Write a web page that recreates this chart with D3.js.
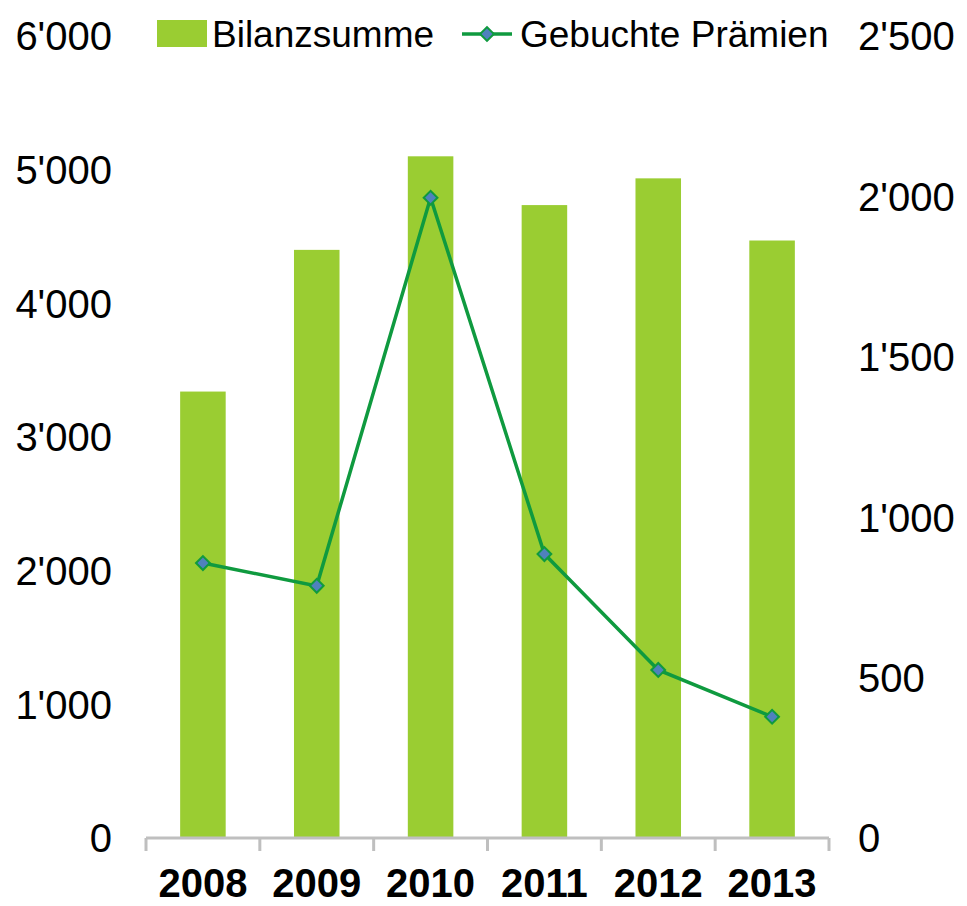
<!DOCTYPE html>
<html>
<head>
<meta charset="utf-8">
<script src="https://cdn.jsdelivr.net/npm/d3@7"></script>
<style>
  body { margin: 0; background: #fff; }
  svg text { font-family: "Liberation Sans", Arial, sans-serif; fill: #000; }
</style>
</head>
<body>
<div id="chart"></div>
<script>
// chart data
const years = ["2008", "2009", "2010", "2011", "2012", "2013"];
const bilanzsumme = [3340, 4400, 5100, 4735, 4935, 4470];
const praemien = [857, 786, 1996, 885, 524, 378];
const leftTicks = [0, 1000, 2000, 3000, 4000, 5000, 6000];
const rightTicks = [0, 500, 1000, 1500, 2000, 2500];
const seriesNames = ["Bilanzsumme", "Gebuchte Prämien"];

const width = 967, height = 906;
const barColor = "#9acd32", lineColor = "#0f9a3f", markerColor = "#4f81bd";

const fmt = d3.formatLocale({decimal: ".", thousands: "'", grouping: [3], currency: ["", ""]}).format(",");

const svg = d3.select("#chart")
    .append("svg")
    .attr("width", width)
    .attr("height", height);

const x = d3.scaleBand()
    .domain(years)
    .range([146, 829])
    .paddingInner(0.6)
    .paddingOuter(0.3);

const yL = d3.scaleLinear().domain([0, 6000]).range([838, 36]);
const yR = d3.scaleLinear().domain([0, 2500]).range([838, 36]);

// bars
svg.selectAll("rect.bar")
    .data(years)
    .join("rect")
    .attr("class", "bar")
    .attr("x", d => x(d))
    .attr("width", x.bandwidth())
    .attr("y", (d, i) => yL(bilanzsumme[i]))
    .attr("height", (d, i) => yL(0) - yL(bilanzsumme[i]))
    .attr("fill", barColor);

// x axis (gray line with ticks at category boundaries)
const xAxis = svg.append("g");
xAxis.append("line")
    .attr("x1", 146).attr("x2", 829)
    .attr("y1", yL(0)).attr("y2", yL(0))
    .attr("stroke", "#bfbfbf").attr("stroke-width", 3);
const bounds = years.map(d => x(d) - x.step() * x.paddingInner() / 2);
bounds.push(829);
bounds[0] = 146;
xAxis.selectAll("line.tick")
    .data(bounds)
    .join("line")
    .attr("class", "tick")
    .attr("x1", d => d).attr("x2", d => d)
    .attr("y1", yL(0)).attr("y2", yL(0) + 13)
    .attr("stroke", "#bfbfbf").attr("stroke-width", 3);
xAxis.selectAll("text")
    .data(years)
    .join("text")
    .attr("x", d => x(d) + x.bandwidth() / 2)
    .attr("y", 897)
    .attr("text-anchor", "middle")
    .attr("font-size", 40)
    .attr("font-weight", "bold")
    .text(d => d);

// left axis labels
svg.append("g").selectAll("text")
    .data(leftTicks)
    .join("text")
    .attr("x", 112)
    .attr("y", d => yL(d))
    .attr("dy", "0.36em")
    .attr("text-anchor", "end")
    .attr("font-size", 40)
    .text(d => fmt(d));

// right axis labels
svg.append("g").selectAll("text")
    .data(rightTicks)
    .join("text")
    .attr("x", 858)
    .attr("y", d => yR(d))
    .attr("dy", "0.36em")
    .attr("text-anchor", "start")
    .attr("font-size", 40)
    .text(d => fmt(d));

// line series
const line = d3.line()
    .x((d, i) => x(years[i]) + x.bandwidth() / 2)
    .y(d => yR(d));

svg.append("path")
    .datum(praemien)
    .attr("fill", "none")
    .attr("stroke", lineColor)
    .attr("stroke-width", 3.5)
    .attr("d", line);

// square marker rotated 45deg gives an even diamond
const diamond = d3.symbol().type(d3.symbolSquare).size(95);
svg.selectAll("path.marker")
    .data(praemien)
    .join("path")
    .attr("class", "marker")
    .attr("d", diamond)
    .attr("transform", (d, i) => `translate(${x(years[i]) + x.bandwidth() / 2},${yR(d)}) rotate(45)`)
    .attr("fill", markerColor)
    .attr("stroke", lineColor)
    .attr("stroke-width", 2);

// legend
const legend = svg.append("g");
legend.append("rect")
    .attr("x", 157).attr("y", 20)
    .attr("width", 50).attr("height", 27)
    .attr("fill", barColor);
legend.append("text")
    .attr("x", 212).attr("y", 47)
    .attr("font-size", 37)
    .text(seriesNames[0]);
legend.append("line")
    .attr("x1", 462).attr("x2", 512)
    .attr("y1", 34).attr("y2", 34)
    .attr("stroke", lineColor).attr("stroke-width", 3.5);
legend.append("path")
    .attr("d", diamond)
    .attr("transform", "translate(487,34) rotate(45)")
    .attr("fill", markerColor)
    .attr("stroke", lineColor)
    .attr("stroke-width", 2);
legend.append("text")
    .attr("x", 520).attr("y", 47)
    .attr("font-size", 37)
    .text(seriesNames[1]);
</script>
</body>
</html>
